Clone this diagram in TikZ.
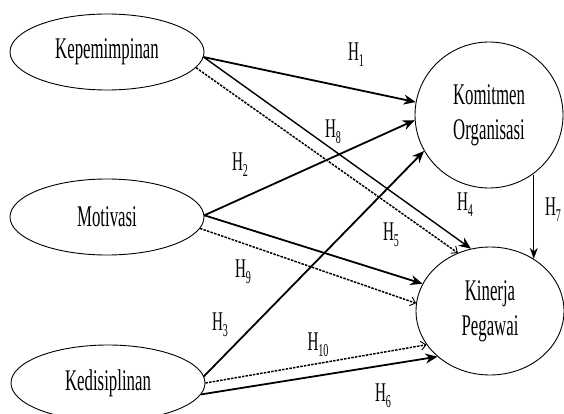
\documentclass[tikz,border=0pt]{standalone}
\usepackage{fontspec}
\setmainfont[FakeStretch=0.56]{Liberation Serif}
\usetikzlibrary{shapes.geometric,arrows.meta}
\tikzstyle{construct} = [ellipse, draw=black, line width=0.9pt, minimum width=194pt, minimum height=76pt, inner sep=0pt, text centered, font=\fontsize{30}{35}\selectfont]
\tikzstyle{outcome} = [ellipse, draw=black, line width=0.9pt, minimum width=148pt, inner sep=0pt, align=center, font=\fontsize{30}{35}\selectfont]
\tikzstyle{hyp} = [inner sep=0pt, font=\fontsize{27}{28}\selectfont]
\tikzstyle{arrow} = [line width=1.8pt,-{Stealth[length=12pt,width=10pt]}]
\tikzstyle{thinarrow} = [line width=1.1pt,-{Stealth[length=11pt,width=8pt]}]
\tikzstyle{dasharrow} = [line width=1.5pt, dash pattern=on 2.5pt off 1.2pt,-{Straight Barb[length=5pt,width=9pt,line width=0.9pt]}]
\newcommand{\hsub}[1]{H\raisebox{-6pt}{\fontsize{18}{18}\selectfont #1}}

\begin{document}
\begin{tikzpicture}[x=1pt, y=-1pt]
	\clip (0,0) rectangle (564,414);
	\useasboundingbox (0,0) rectangle (564,414);
	
	\node (kep) [construct] at (107,52) {Kepemimpinan};
	\node (mot) [construct] at (107,217) {Motivasi};
	\node (ked) [construct] at (108,383) {Kedisiplinan};
	
	\node (kom) [outcome, minimum height=146pt] at (489,115) {Komitmen\\Organisasi};
	\node (kin) [outcome, minimum height=128pt] at (490,311) {Kinerja\\Pegawai};
	
	% hypotheses
	\node (h1) [hyp] at (356,55) {\hsub{1}};
	\node (h2) [hyp] at (240,165) {\hsub{2}};
	\node (h3) [hyp] at (220,325) {\hsub{3}};
	\node (h4) [hyp] at (465,205) {\hsub{4}};
	\node (h5) [hyp] at (391,235) {\hsub{5}};
	\node (h6) [hyp] at (383,396) {\hsub{6}};
	\node (h7) [hyp] at (553,210) {\hsub{7}};
	\node (h8) [hyp] at (333,132) {\hsub{8}};
	\node (h9) [hyp] at (243,272) {\hsub{9}};
	\node (h10) [hyp] at (318,345) {\hsub{10}};
	
	\draw[arrow] (kep.-3) -- (kom.170);
	\draw[arrow] (mot.1) -- (kom.184);
	\draw[arrow] (ked.4) -- (kom.209);
	\draw[arrow, line width=1.4pt] (kep.-3) -- (kin.107);
	\draw[arrow] (mot.1) -- (kin.158);
	\draw[arrow] (ked.-7) -- (kin.221);
	\draw[thinarrow] (kin.50 |- kom.-54) -- (kin.50);
	\draw[dasharrow] (kep.-10) -- (kin.119);
	\draw[dasharrow] (mot.-7) -- (kin.174);
	\draw[dasharrow] (ked.0) -- (kin.208);
	
\end{tikzpicture}
\end{document}
